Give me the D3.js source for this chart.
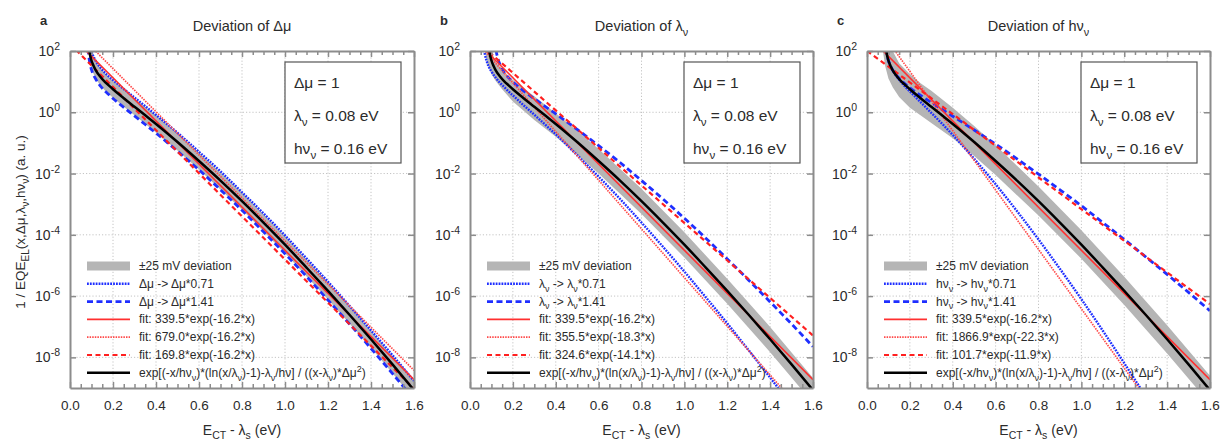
<!DOCTYPE html>
<html><head><meta charset="utf-8">
<script src="https://cdn.jsdelivr.net/npm/d3@7"></script>
<style>body{margin:0;background:#fff}svg{display:block;font-family:"Liberation Sans",Arial,sans-serif}</style>
</head><body>
<svg id="c" width="1221" height="442"></svg>
<script>
// ---------------- DATA (y values stored as log10 exponents) ----------------
const xTicks = [0, 0.2, 0.4, 0.6, 0.8, 1.0, 1.2, 1.4, 1.6];
const yTickExp = [2, 0, -2, -4, -6, -8];
const panelLetters = ["a", "b", "c"];

// black model curve (same in all panels)
const blackX   = [0.082,0.085,0.09,0.1,0.11,0.12,0.14,0.16,0.18,0.2,0.25,0.3,0.35,0.4,0.5,0.6,0.7,0.8,0.9,1.0,1.1,1.2,1.3,1.4,1.5,1.6];
const blackLog = [2.70,2.30,2.00,1.69,1.51,1.37,1.17,1.01,0.88,0.75,0.46,0.18,-0.10,-0.38,-0.97,-1.59,-2.23,-2.90,-3.60,-4.32,-5.07,-5.83,-6.61,-7.41,-8.23,-9.07];

// panel a: Δμ deviation
const aDotLog  = [3.00,2.60,2.30,1.99,1.81,1.67,1.47,1.31,1.17,1.05,0.76,0.48,0.20,-0.09,-0.67,-1.29,-1.93,-2.61,-3.30,-4.02,-4.77,-5.53,-6.32,-7.12,-7.93,-8.77];
const aDashLog = [2.40,2.00,1.70,1.39,1.21,1.08,0.87,0.71,0.58,0.45,0.16,-0.12,-0.40,-0.68,-1.27,-1.88,-2.53,-3.20,-3.90,-4.62,-5.36,-6.13,-6.91,-7.71,-8.53,-9.37];

// panel b: λν deviation
const bDotX    = [0.06,0.065,0.07,0.08,0.1,0.12,0.14,0.16,0.18,0.2,0.25,0.3,0.35,0.4,0.5,0.6,0.7,0.8,0.9,1.0,1.1,1.2,1.3,1.4,1.5];
const bDotLog  = [2.50,2.08,1.88,1.62,1.33,1.13,0.96,0.82,0.68,0.55,0.23,-0.08,-0.40,-0.72,-1.40,-2.10,-2.83,-3.60,-4.39,-5.20,-6.04,-6.89,-7.77,-8.66,-9.57];
const bDashX   = [0.115,0.12,0.13,0.14,0.16,0.18,0.2,0.25,0.3,0.35,0.4,0.5,0.6,0.7,0.8,0.9,1.0,1.1,1.2,1.3,1.4,1.5,1.6];
const bDashLog = [2.66,2.14,1.76,1.56,1.30,1.13,0.99,0.70,0.44,0.19,-0.05,-0.56,-1.09,-1.64,-2.23,-2.83,-3.46,-4.11,-4.79,-5.48,-6.19,-6.91,-7.65];

// panel c: hνν deviation
const cDotX    = [0.082,0.085,0.09,0.1,0.12,0.14,0.16,0.18,0.2,0.25,0.3,0.35,0.4,0.5,0.6,0.7,0.8,0.9,1.0,1.1,1.2,1.3];
const cDotLog  = [2.70,2.30,2.00,1.69,1.36,1.15,0.98,0.82,0.68,0.33,-0.02,-0.37,-0.74,-1.52,-2.35,-3.23,-4.15,-5.11,-6.10,-7.13,-8.19,-9.28];
const cDashLog = [2.70,2.30,2.00,1.69,1.51,1.38,1.19,1.04,0.91,0.80,0.55,0.32,0.09,-0.13,-0.58,-1.04,-1.52,-2.02,-2.53,-3.05,-3.60,-4.15,-4.72,-5.29,-5.88,-6.48];

// exponential fits (end points at x = 0 and x = 1.6)
const fitX = [0, 1.6];
const fitSolidLog = [2.531, -8.726];
const aFitDotLog  = [2.832, -8.425];
const aFitDashLog = [2.230, -9.027];
const bFitDotLog  = [2.551, -10.165];
const bFitDashLog = [2.511, -7.286];
const cFitDotLog  = [3.271, -12.224];
const cFitDashLog = [2.007, -6.262];

// ±25 mV deviation bands: upper and lower edges
const aBandX     = [0.083,0.085,0.09,0.1,0.12,0.14,0.16,0.2,0.25,0.3,0.4,0.5,0.6,0.8,1.0,1.2,1.4,1.6];
const aBandHiLog = [2.80,2.58,2.28,1.97,1.65,1.45,1.29,1.03,0.74,0.46,-0.10,-0.69,-1.31,-2.62,-4.04,-5.55,-7.13,-8.79];
const aBandLoLog = [2.30,2.02,1.72,1.41,1.09,0.89,0.73,0.47,0.18,-0.10,-0.66,-1.25,-1.87,-3.18,-4.60,-6.11,-7.69,-9.35];
const bBandHiX   = [0.095,0.1,0.12,0.15,0.2,0.3,0.4,0.5,0.6,0.8,1.0,1.2,1.4,1.6];
const bBandHiLog = [2.20,2.00,1.65,1.40,1.05,0.52,-0.03,-0.60,-1.20,-2.50,-3.92,-5.43,-7.01,-8.67];
const bBandLoX   = [0.07,0.08,0.1,0.12,0.15,0.2,0.3,0.4,0.5,0.6,0.8,1.0,1.2,1.4,1.6];
const bBandLoLog = [2.00,1.60,1.25,1.02,0.75,0.35,-0.25,-0.80,-1.38,-2.00,-3.32,-4.74,-6.25,-7.83,-9.49];
const cBandHiX   = [0.11,0.12,0.15,0.2,0.25,0.3,0.4,0.5,0.6,0.8,1.0,1.2,1.4,1.6];
const cBandHiLog = [2.20,2.00,1.60,1.25,0.95,0.70,0.15,-0.45,-1.08,-2.42,-3.85,-5.37,-6.95,-8.60];
const cBandLoX   = [0.074,0.085,0.1,0.12,0.15,0.2,0.3,0.4,0.5,0.6,0.8,1.0,1.2,1.4,1.6];
const cBandLoLog = [2.00,1.50,1.10,0.82,0.50,0.15,-0.35,-0.85,-1.43,-2.05,-3.37,-4.78,-6.29,-7.87,-9.52];

// text
const titles = [
  [["Deviation of Δμ",""]],
  [["Deviation of λ",""],["ν","sub"]],
  [["Deviation of hν",""],["ν","sub"]]
];
const infoLines = [
  [["Δμ = 1",""]],
  [["λ",""],["ν","sub"],[" = 0.08 eV",""]],
  [["hν",""],["ν","sub"],[" = 0.16 eV",""]]
];
const bandLabel = [["±25 mV deviation",""]];
const modelLabel = [["exp[(-x/hν",""],["ν","sub"],[")*(ln(x/λ",""],["ν","sub"],[")-1)-λ",""],["ν","sub"],["/hν] / ((x-λ",""],["ν","sub"],[")*Δμ",""],["2","sup"],[")",""]];
const devLabels = [
  [[["Δμ -> Δμ*0.71",""]], [["Δμ -> Δμ*1.41",""]]],
  [[["λ",""],["ν","sub"],[" -> λ",""],["ν","sub"],["*0.71",""]], [["λ",""],["ν","sub"],[" -> λ",""],["ν","sub"],["*1.41",""]]],
  [[["hν",""],["ν","sub"],[" -> hν",""],["ν","sub"],["*0.71",""]], [["hν",""],["ν","sub"],[" -> hν",""],["ν","sub"],["*1.41",""]]]
];
const fitLabels = [
  ["fit: 339.5*exp(-16.2*x)", "fit: 679.0*exp(-16.2*x)", "fit: 169.8*exp(-16.2*x)"],
  ["fit: 339.5*exp(-16.2*x)", "fit: 355.5*exp(-18.3*x)", "fit: 324.6*exp(-14.1*x)"],
  ["fit: 339.5*exp(-16.2*x)", "fit: 1866.9*exp(-22.3*x)", "fit: 101.7*exp(-11.9*x)"]
];
const xTitle = [["E",""],["CT","sub"],[" - λ",""],["s","sub"],[" (eV)",""]];
const yTitle = [["1 / EQE",""],["EL","sub"],["(x,Δμ,λ",""],["ν","sub"],[",hν",""],["ν","sub"],[") (a. u.)",""]];

// ---------------- DRAWING ----------------
const svg = d3.select("#c");
const TOP = 51, BOTTOM = 388;
const layout = [{l:70, r:414}, {l:470, r:813}, {l:867, r:1210}];
const BLUE = "#1f2fff", RED = "#ff3030", BAND = "#b5b5b5", FRAME = "#8c8c8c", TXT = "#2b2b2b";

function rich(t, segs, size) {
  let shift = 0;
  segs.forEach(([s, m]) => {
    const target = m === "sub" ? size * 0.32 : m === "sup" ? -size * 0.42 : 0;
    const ts = t.append("tspan").text(s);
    if (target - shift !== 0) ts.attr("dy", target - shift);
    if (m) ts.attr("font-size", size * 0.75);
    shift = target;
  });
  return t;
}

const styles = {
  blueDot:  {stroke: BLUE, w: 2.4, dash: "1.8,1.1"},
  blueDash: {stroke: BLUE, w: 2.8, dash: "6,3.5"},
  redSolid: {stroke: RED,  w: 1.6, dash: null},
  redDot:   {stroke: "#ff4a4a", w: 1.7, dash: "1.5,1.1"},
  redDash:  {stroke: "#ff2020", w: 2.2, dash: "5,3.5"},
  black:    {stroke: "#000", w: 2.5, dash: null}
};

const panelData = [
  {band: {hiX: aBandX, hi: aBandHiLog, loX: aBandX, lo: aBandLoLog},
   dot: [blackX, aDotLog], dash: [blackX, aDashLog], fitDot: aFitDotLog, fitDash: aFitDashLog},
  {band: {hiX: bBandHiX, hi: bBandHiLog, loX: bBandLoX, lo: bBandLoLog},
   dot: [bDotX, bDotLog], dash: [bDashX, bDashLog], fitDot: bFitDotLog, fitDash: bFitDashLog},
  {band: {hiX: cBandHiX, hi: cBandHiLog, loX: cBandLoX, lo: cBandLoLog},
   dot: [cDotX, cDotLog], dash: [blackX, cDashLog], fitDot: cFitDotLog, fitDash: cFitDashLog}
];

layout.forEach((L, i) => {
  const P = panelData[i];
  const g = svg.append("g");
  const x = d3.scaleLinear().domain([0, 1.6]).range([L.l, L.r]);
  const y = d3.scaleLog().domain([1e-9, 1e2]).range([BOTTOM, TOP]);
  const pts = (xs, ls) => xs.map((v, k) => [x(v), y(Math.pow(10, ls[k]))]);

  // grid
  g.append("g").selectAll("line").data(xTicks.slice(1, -1)).join("line")
    .attr("x1", d => x(d)).attr("x2", d => x(d)).attr("y1", TOP).attr("y2", BOTTOM)
    .attr("stroke", "#c4c4c4").attr("stroke-width", 1).attr("stroke-dasharray", "1.2,2");
  g.append("g").selectAll("line").data(yTickExp.slice(1)).join("line")
    .attr("x1", L.l).attr("x2", L.r).attr("y1", d => y(Math.pow(10, d))).attr("y2", d => y(Math.pow(10, d)))
    .attr("stroke", "#c4c4c4").attr("stroke-width", 1).attr("stroke-dasharray", "1.2,2");

  // clip
  const cid = "clip" + i;
  svg.append("clipPath").attr("id", cid).append("rect")
    .attr("x", L.l).attr("y", TOP).attr("width", L.r - L.l).attr("height", BOTTOM - TOP);
  const pg = g.append("g").attr("clip-path", `url(#${cid})`);

  // band
  const bandPts = pts(P.band.hiX, P.band.hi).concat(pts(P.band.loX, P.band.lo).reverse());
  pg.append("path").attr("d", d3.line()(bandPts) + "Z").attr("fill", BAND).attr("stroke", "none");

  const curve = d3.line().curve(d3.curveMonotoneX);
  const draw = (p, st) => pg.append("path").attr("d", curve(p)).attr("fill", "none")
    .attr("stroke", st.stroke).attr("stroke-width", st.w)
    .attr("stroke-dasharray", st.dash).attr("stroke-linejoin", "round");

  draw(pts(P.dot[0], P.dot[1]), styles.blueDot);
  draw(pts(P.dash[0], P.dash[1]), styles.blueDash);
  draw(pts(fitX, fitSolidLog), styles.redSolid);
  draw(pts(fitX, P.fitDot), styles.redDot);
  draw(pts(fitX, P.fitDash), styles.redDash);
  draw(pts(blackX, blackLog), styles.black);

  // axes
  const minor = d3.range(0, 33).map(k => k * 0.05).filter(v => Math.abs(v * 5 - Math.round(v * 5)) > 1e-6);
  const styleAxis = a => { a.selectAll("path,line").attr("stroke", FRAME).attr("stroke-width", 1.5); a.select(".domain").attr("stroke-width", 2); };
  const bot = g.append("g").attr("transform", `translate(0,${BOTTOM})`)
    .call(d3.axisBottom(x).tickValues(xTicks).tickSize(-6).tickSizeOuter(0).tickPadding(12).tickFormat(d3.format(".1f")));
  styleAxis(bot);
  bot.selectAll("text").attr("font-size", 13.5).attr("fill", TXT).attr("font-family", "Liberation Sans, Arial, sans-serif");
  const botMinor = g.append("g").attr("transform", `translate(0,${BOTTOM})`)
    .call(d3.axisBottom(x).tickValues(minor).tickSize(-4).tickSizeOuter(0).tickFormat(""));
  styleAxis(botMinor); botMinor.select(".domain").remove();
  const topA = g.append("g").attr("transform", `translate(0,${TOP})`)
    .call(d3.axisTop(x).tickValues(xTicks).tickSize(-6).tickSizeOuter(0).tickFormat(""));
  styleAxis(topA);
  const topMinor = g.append("g").attr("transform", `translate(0,${TOP})`)
    .call(d3.axisTop(x).tickValues(minor).tickSize(-4).tickSizeOuter(0).tickFormat(""));
  styleAxis(topMinor); topMinor.select(".domain").remove();
  const yVals = yTickExp.map(e => Math.pow(10, e));
  const leftA = g.append("g").attr("transform", `translate(${L.l},0)`)
    .call(d3.axisLeft(y).tickValues(yVals).tickSize(-6).tickSizeOuter(0).tickFormat(""));
  styleAxis(leftA);
  const rightA = g.append("g").attr("transform", `translate(${L.r},0)`)
    .call(d3.axisRight(y).tickValues(yVals).tickSize(-6).tickSizeOuter(0).tickFormat(""));
  styleAxis(rightA);

  // y tick labels 10^n
  yTickExp.forEach(e => {
    const t = g.append("text").attr("x", L.l - 10).attr("y", y(Math.pow(10, e)) + 5)
      .attr("text-anchor", "end").attr("font-size", 14).attr("fill", TXT);
    rich(t, [["10", ""], [String(e), "sup"]], 14);
  });

  // title and panel letter
  rich(g.append("text").attr("x", (L.l + L.r) / 2).attr("y", 31).attr("text-anchor", "middle")
    .attr("font-size", 14.5).attr("fill", TXT), titles[i], 14.5);
  g.append("text").attr("x", L.l - 30).attr("y", 25).attr("font-size", 13).attr("font-weight", "bold")
    .attr("fill", TXT).text(panelLetters[i]);

  // x title
  rich(g.append("text").attr("x", (L.l + L.r) / 2).attr("y", 435).attr("text-anchor", "middle")
    .attr("font-size", 14).attr("fill", TXT), xTitle, 14);

  // info box
  const bx = L.r - 129, bw = 116;
  g.append("rect").attr("x", bx).attr("y", 62).attr("width", bw).attr("height", 101)
    .attr("fill", "#fff").attr("stroke", "#555").attr("stroke-width", 1.2);
  infoLines.forEach((segs, k) => {
    rich(g.append("text").attr("x", bx + 9).attr("y", 88 + k * 33).attr("font-size", 15.5).attr("fill", TXT), segs, 15.5);
  });

  // legend
  const lx0 = L.l + 17, lx1 = L.l + 60, tx = L.l + 69;
  const rowY = k => 266 + k * 17.8;
  const lg = g.append("g");
  lg.append("rect").attr("x", lx0).attr("y", rowY(0) - 4.5).attr("width", lx1 - lx0).attr("height", 9).attr("fill", BAND);
  const legStyles = [styles.blueDot, styles.blueDash, styles.redSolid, styles.redDot, styles.redDash, styles.black];
  legStyles.forEach((st, k) => {
    lg.append("line").attr("x1", lx0).attr("x2", lx1).attr("y1", rowY(k + 1)).attr("y2", rowY(k + 1))
      .attr("stroke", st.stroke).attr("stroke-width", st.w).attr("stroke-dasharray", st.dash);
  });
  const legTexts = [bandLabel, devLabels[i][0], devLabels[i][1],
    [[fitLabels[i][0], ""]], [[fitLabels[i][1], ""]], [[fitLabels[i][2], ""]], modelLabel];
  legTexts.forEach((segs, k) => {
    rich(lg.append("text").attr("x", tx).attr("y", rowY(k) + 4).attr("font-size", 12).attr("fill", TXT), segs, 12);
  });
});

// y axis title (panel a only)
rich(svg.append("text").attr("transform", "translate(25,222) rotate(-90)").attr("text-anchor", "middle")
  .attr("font-size", 13.5).attr("fill", TXT), yTitle, 13.5);
</script>
</body></html>
